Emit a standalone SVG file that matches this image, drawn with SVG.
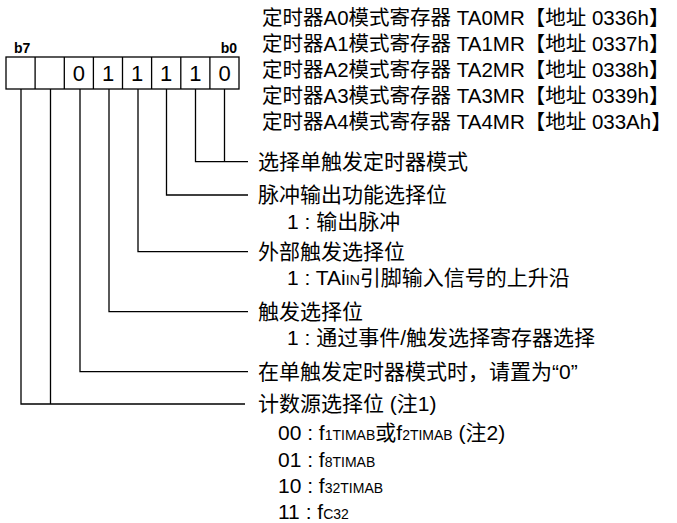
<svg xmlns="http://www.w3.org/2000/svg" width="677" height="523" viewBox="0 0 677 523">
<style>
text{font-family:"Liberation Sans","Noto Sans CJK SC",sans-serif;font-size:21px;fill:#000}
.t{font-size:20.5px}
.b{font-weight:bold;font-size:14px}
.s{font-size:14px}
.ln{stroke:#000;stroke-width:1.3;fill:none}
.cell{stroke:#000;stroke-width:1.3;fill:#fff}
.v{text-anchor:middle;font-size:22px}
</style>
<rect width="677" height="523" fill="#fff"/>
<g id="titles">
<text class="t" x="262" y="25">定时器A0模式寄存器 TA0MR【地址 0336h】</text>
<text class="t" x="262" y="51">定时器A1模式寄存器 TA1MR【地址 0337h】</text>
<text class="t" x="262" y="77">定时器A2模式寄存器 TA2MR【地址 0338h】</text>
<text class="t" x="262" y="103">定时器A3模式寄存器 TA3MR【地址 0339h】</text>
<text class="t" x="262" y="129">定时器A4模式寄存器 TA4MR【地址 033Ah】</text>
</g>
<g id="register">
<text class="b" x="14" y="53">b7</text>
<text class="b" x="237" y="53" text-anchor="end">b0</text>
<rect class="cell" x="6" y="57" width="233" height="32"/>
<path class="ln" d="M35.1 57V89M64.3 57V89M93.4 57V89M122.5 57V89M151.6 57V89M180.8 57V89M209.9 57V89"/>
<text class="v" x="78.8" y="81">0</text>
<text class="v" x="108" y="81">1</text>
<text class="v" x="137" y="81">1</text>
<text class="v" x="166.2" y="81">1</text>
<text class="v" x="195.3" y="81">1</text>
<text class="v" x="224.5" y="81">0</text>
</g>
<g id="connectors">
<path class="ln" d="M224.5 89V161.7M195.5 89V161.7H248"/>
<path class="ln" d="M166.5 89V195H248"/>
<path class="ln" d="M138 89V251.7H248"/>
<path class="ln" d="M109 89V311.7H248"/>
<path class="ln" d="M80 89V371.7H248"/>
<path class="ln" d="M50.5 89V404M21 89V404H245"/>
</g>
<g id="bit0-1">
<text x="258" y="169">选择单触发定时器模式</text>
</g>
<g id="bit2">
<text x="258" y="202">脉冲输出功能选择位</text>
<text x="287" y="229">1 : 输出脉冲</text>
</g>
<g id="bit3">
<text x="258" y="259">外部触发选择位</text>
<text x="287" y="285">1 : TAi<tspan class="s">IN</tspan>引脚输入信号的上升沿</text>
</g>
<g id="bit4">
<text x="258" y="319">触发选择位</text>
<text x="287" y="345">1 : 通过事件/触发选择寄存器选择</text>
</g>
<g id="bit5">
<text x="258" y="379">在单触发定时器模式时，请置为“0”</text>
</g>
<g id="bit6-7">
<text x="258" y="411">计数源选择位 (注1)</text>
<text x="278" y="440">00 : f<tspan class="s">1TIMAB</tspan>或f<tspan class="s">2TIMAB</tspan> (注2)</text>
<text x="278" y="467">01 : f<tspan class="s">8TIMAB</tspan></text>
<text x="278" y="493">10 : f<tspan class="s">32TIMAB</tspan></text>
<text x="278" y="519">11 : f<tspan class="s">C32</tspan></text>
</g>
</svg>
